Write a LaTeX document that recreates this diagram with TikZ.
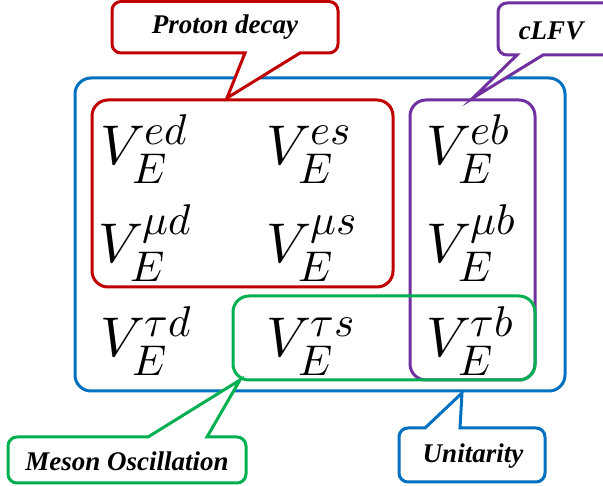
\documentclass[tikz,border=0pt]{standalone}
\usepackage{fontspec}
\usepackage{unicode-math}
\setmainfont{Liberation Serif}
\setmathfont{Latin Modern Math}
\DeclareMathSizes{56}{56}{43}{32}
\definecolor{cred}{RGB}{192,0,0}
\definecolor{cblue}{RGB}{0,112,192}
\definecolor{cpurple}{RGB}{112,48,160}
\definecolor{cgreen}{RGB}{0,176,80}
\tikzset{
  grp/.style={line width=3pt, rounded corners=16pt},
  callout/.style={line width=3pt, fill=white, line join=miter},
  lbl/.style={font=\fontsize{27}{30}\selectfont\bfseries\itshape, inner sep=0pt},
  ent/.style={font=\fontsize{56}{60}\selectfont, inner sep=0pt, anchor=base west}
}
\begin{document}
\begin{tikzpicture}[x=1pt,y=-1pt]
\useasboundingbox (0,0) rectangle (603,486);
\clip (0,0) rectangle (603,486);
% group boxes
\draw[grp, cblue] (75,78) rectangle (565,391);
\draw[grp, cred] (92,100) rectangle (393,287);
\draw[grp, cpurple] (410,100) rectangle (535,380);
\draw[grp, cgreen] (233,296) rectangle (535,380);
% entries
\node[ent] (ed) at (100,165) {$V_E^{ed}$};
\node[ent] (es) at (266,165) {$V_E^{es}$};
\node[ent] (eb) at (426,165) {$V_E^{eb}$};
\node[ent] (md) at (98,263) {$V_E^{\mu d}$};
\node[ent] (ms) at (266,263) {$V_E^{\mu s}$};
\node[ent] (mb) at (426,263) {$V_E^{\mu b}$};
\node[ent] (td) at (100,357) {$V_E^{\tau d}$};
\node[ent] (ts) at (266,357) {$V_E^{\tau s}$};
\node[ent] (tb) at (426,357) {$V_E^{\tau b}$};
% callouts
\coordinate (ptip) at (227,98);
\draw[callout, draw=cred] [rounded corners=9pt] (245,53) -- (112,53) -- (112,1.5) -- (338,1.5) -- (338,53) [sharp corners] -- (300,53) -- (ptip) -- cycle;
\node[lbl] (proton) at (225,27) {Proton decay};
\coordinate (ctip) at (473,98);
\draw[callout, draw=cpurple] [rounded corners=9pt] (543,55) -- (615,55) -- (615,3) -- (498,3) -- (498,55) [sharp corners] -- (517,55) -- (ctip) -- cycle;
\node[lbl] (clfv) at (551,31) {cLFV};
\coordinate (mtip) at (240,380);
\draw[callout, draw=cgreen] [rounded corners=9pt] (148,437) -- (8,437) -- (8,483) -- (246,483) -- (246,437) [sharp corners] -- (207,437) -- (mtip) -- cycle;
\node[lbl] (meson) at (127,461) {Meson Oscillation};
\coordinate (utip) at (462,393);
\draw[callout, draw=cblue] [rounded corners=9pt] (460,428) -- (545,428) -- (545,482) -- (399,482) -- (399,428) [sharp corners] -- (425,428) -- (utip) -- cycle;
\node[lbl] (unit) at (473,456) {Unitarity};
\end{tikzpicture}
\end{document}
